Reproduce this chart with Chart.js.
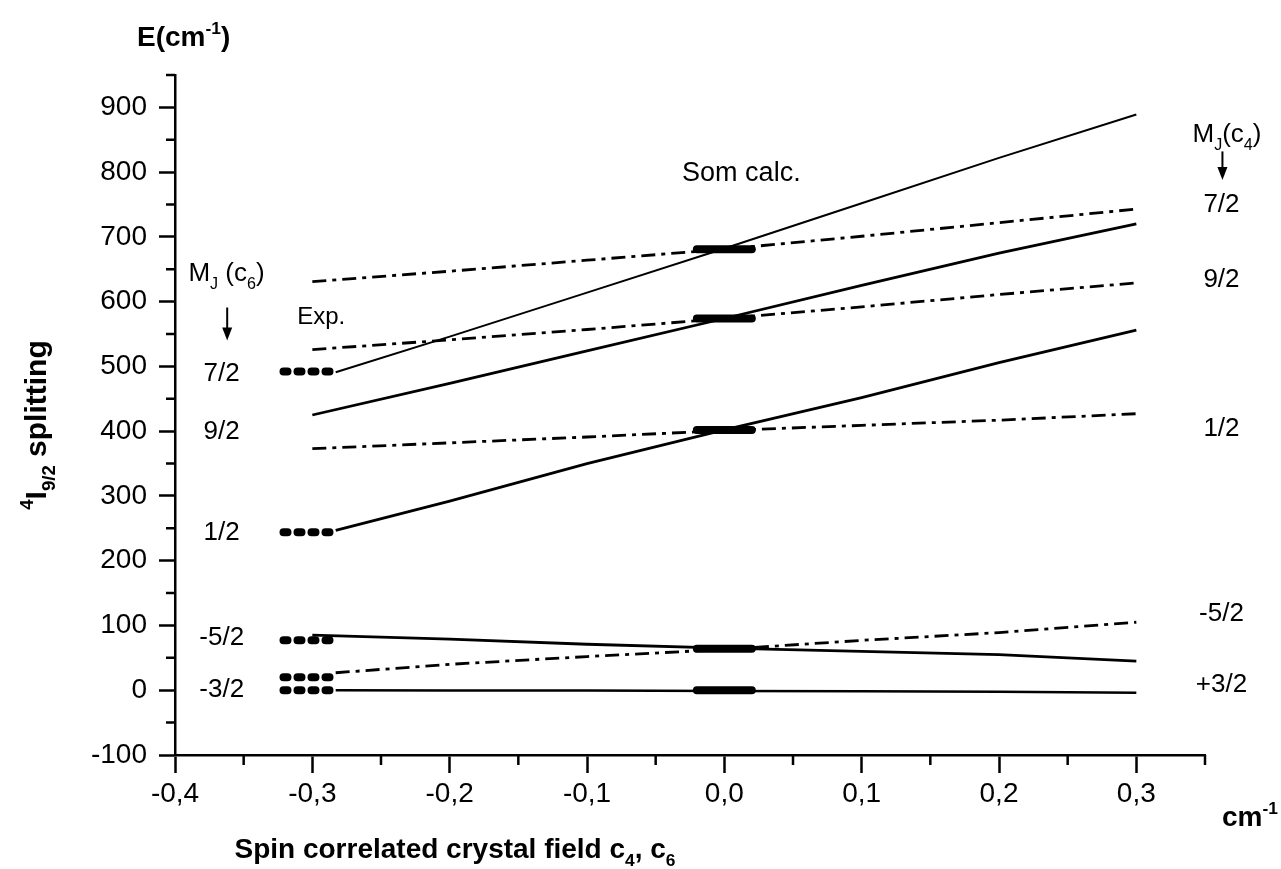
<!DOCTYPE html>
<html>
<head>
<meta charset="utf-8">
<title>4I9/2 splitting</title>
<script src="https://cdn.jsdelivr.net/npm/chart.js@4.4.1/dist/chart.umd.min.js"></script>
<style>
  html, body { margin: 0; padding: 0; background: #fff; }
  #wrap { width: 1281px; height: 869px; position: relative; }
</style>
</head>
<body>
<div id="wrap"><canvas id="levels"></canvas></div>
<script>
// field grids (cm-1)
const fieldGrid = [-0.3, -0.2, -0.1, 0, 0.1, 0.2, 0.3];
const fieldFromExp = [-0.283, -0.2, -0.1, 0, 0.1, 0.2, 0.3];

// solid curves, c6 varied (cm-1)
const c6Level72 = [491, 546, 614, 682, 752, 822, 889];   // on fieldFromExp
const c6Level92 = [425, 474, 524, 574, 625, 675, 720];   // on fieldGrid
const c6Level12 = [247, 292, 350, 402, 452, 506, 556];   // on fieldFromExp
const c6LevelM52 = [85, 79, 71, 65, 60, 55, 45];         // on fieldGrid
const c6LevelM32 = [0, -0.5, -0.5, -1, -1.5, -2.5, -4];  // on fieldFromExp

// dash-dot curves, c4 varied (cm-1)
const c4Level72 = [631, 647, 664, 681, 701, 722, 743];   // on fieldGrid
const c4Level92 = [526, 541, 557, 574, 592, 611, 629];   // on fieldGrid
const c4Level12 = [373, 382, 391, 401, 409, 417, 427];   // on fieldGrid
const c4LevelM52 = [27, 40, 52, 63, 77, 89, 105];        // on fieldFromExp

// experimental levels and Som calculation
const expField = [-0.321, -0.284];
const expLevels = [492, 244, 77, 20, 0];
const somField = [-0.02, 0.02];
const somLevels = [681, 574, 402, 64, 0];

// M_J labels
const leftTags = ["7/2", "9/2", "1/2", "-5/2", "-3/2"];
const leftTagLevels = [492, 402, 246, 84, 4];
const rightTags = ["7/2", "9/2", "1/2", "-5/2", "+3/2"];
const rightTagLevels = [753, 636, 407, 121, 11];

const xMajor = [-0.4, -0.3, -0.2, -0.1, 0, 0.1, 0.2, 0.3];
const xMinor = [-0.35, -0.25, -0.15, -0.05, 0.05, 0.15, 0.25, 0.35];
const yMajor = [-100, 0, 100, 200, 300, 400, 500, 600, 700, 800, 900];
const yMinor = [-50, 50, 150, 250, 350, 450, 550, 650, 750, 850, 950];

const FONT = '"Liberation Sans", Arial, Helvetica, sans-serif';
const dashDot = [14, 6, 4, 6];

function pts(xs, ys) {
  return xs.map((x, i) => ({ x: x, y: ys[i] }));
}

function curve(xs, ys, width, dash) {
  return {
    data: pts(xs, ys),
    borderColor: "#000",
    borderWidth: width,
    borderDash: dash || [],
    pointRadius: 0,
    tension: 0,
    fill: false,
  };
}

const datasets = [
  curve(fieldFromExp, c6Level72, 2),
  curve(fieldGrid, c6Level92, 2.8),
  curve(fieldFromExp, c6Level12, 2.8),
  curve(fieldGrid, c6LevelM52, 2.8),
  curve(fieldFromExp, c6LevelM32, 2.5),
  curve(fieldGrid, c4Level72, 2.8, dashDot),
  curve(fieldGrid, c4Level92, 2.8, dashDot),
  curve(fieldGrid, c4Level12, 2.8, dashDot),
  curve(fieldFromExp, c4LevelM52, 2.8, dashDot),
];

// Exp. dotted markers
expLevels.forEach((e) => {
  const d = curve(expField, [e, e], 8, [4, 10]);
  d.borderCapStyle = "round";
  datasets.push(d);
});
// Som calc. bars
somLevels.forEach((e) => {
  const d = curve(somField, [e, e], 8);
  d.borderCapStyle = "round";
  datasets.push(d);
});

// text with sub/superscripts, y is the baseline
function rich(ctx, parts, x, y, size, bold, align) {
  const f = (s) => (bold ? "bold " : "") + s + "px " + FONT;
  let w = 0;
  parts.forEach((p) => {
    ctx.font = f(p.s ? size * 0.62 : size);
    w += ctx.measureText(p.t).width;
  });
  let cx = align === "center" ? x - w / 2 : align === "right" ? x - w : x;
  ctx.textAlign = "left";
  ctx.textBaseline = "alphabetic";
  parts.forEach((p) => {
    const s = p.s ? size * 0.62 : size;
    ctx.font = f(s);
    const dy = p.s === "sub" ? size * 0.3 : p.s === "sup" ? -size * 0.42 : 0;
    ctx.fillText(p.t, cx, y + dy);
    cx += ctx.measureText(p.t).width;
  });
}

function arrow(ctx, x, y1, y2) {
  ctx.beginPath();
  ctx.moveTo(x, y1);
  ctx.lineTo(x, y2 - 10);
  ctx.lineWidth = 2;
  ctx.stroke();
  ctx.beginPath();
  ctx.moveTo(x - 5, y2 - 13);
  ctx.lineTo(x + 5, y2 - 13);
  ctx.lineTo(x, y2);
  ctx.closePath();
  ctx.fill();
}

const annotate = {
  id: "annotate",
  afterDraw(chart) {
    const ctx = chart.ctx;
    const xs = chart.scales.x;
    const ys = chart.scales.y;
    const area = chart.chartArea;
    ctx.save();
    ctx.fillStyle = "#000";
    ctx.strokeStyle = "#000";

    // minor ticks
    ctx.lineWidth = 2.5;
    ctx.beginPath();
    xMinor.forEach((v) => {
      const px = xs.getPixelForValue(v);
      ctx.moveTo(px, area.bottom);
      ctx.lineTo(px, area.bottom + 10);
    });
    yMinor.forEach((v) => {
      const py = ys.getPixelForValue(v);
      ctx.moveTo(area.left, py);
      ctx.lineTo(area.left - 9, py);
    });
    ctx.stroke();

    // axis titles
    rich(ctx, [{ t: "E(cm" }, { t: "-1", s: "sup" }, { t: ")" }], 137, 46, 28, true, "left");
    rich(ctx, [{ t: "Spin correlated crystal field c" }, { t: "4", s: "sub" }, { t: ", c" }, { t: "6", s: "sub" }],
      455, 858, 28, true, "center");
    rich(ctx, [{ t: "cm" }, { t: "-1", s: "sup" }], 1222, 826, 28, true, "left");
    ctx.save();
    ctx.translate(46, 425);
    ctx.rotate(-Math.PI / 2);
    rich(ctx, [{ t: "4", s: "sup" }, { t: "I" }, { t: "9/2", s: "sub" }, { t: " splitting" }], 0, 0, 30, true, "center");
    ctx.restore();

    // M_J labels
    const lx = xs.getPixelForValue(-0.366);
    const rx = xs.getPixelForValue(0.362);
    leftTags.forEach((t, i) => {
      rich(ctx, [{ t: t }], lx, ys.getPixelForValue(leftTagLevels[i]) + 9, 26, false, "center");
    });
    rightTags.forEach((t, i) => {
      rich(ctx, [{ t: t }], rx, ys.getPixelForValue(rightTagLevels[i]) + 9, 26, false, "center");
    });
    rich(ctx, [{ t: "M" }, { t: "J", s: "sub" }, { t: " (c" }, { t: "6", s: "sub" }, { t: ")" }],
      xs.getPixelForValue(-0.3625), ys.getPixelForValue(632), 26, false, "center");
    arrow(ctx, xs.getPixelForValue(-0.362), ys.getPixelForValue(591), ys.getPixelForValue(540));
    rich(ctx, [{ t: "M" }, { t: "J", s: "sub" }, { t: "(c" }, { t: "4", s: "sub" }, { t: ")" }],
      xs.getPixelForValue(0.366), ys.getPixelForValue(847), 26, false, "center");
    arrow(ctx, xs.getPixelForValue(0.3627), ys.getPixelForValue(832), ys.getPixelForValue(788));

    rich(ctx, [{ t: "Exp." }], xs.getPixelForValue(-0.2935), ys.getPixelForValue(566), 24, false, "center");
    rich(ctx, [{ t: "Som calc." }], xs.getPixelForValue(0.0124), ys.getPixelForValue(786), 27, false, "center");
    ctx.restore();
  },
};

new Chart(document.getElementById("levels"), {
  type: "line",
  data: { datasets: datasets },
  options: {
    responsive: true,
    maintainAspectRatio: false,
    devicePixelRatio: 1,
    animation: false,
    events: [],
    layout: { padding: { top: 75, right: 76, left: 0, bottom: 0 } },
    plugins: { legend: { display: false }, tooltip: { enabled: false } },
    scales: {
      x: {
        type: "linear",
        min: -0.4,
        max: 0.35,
        afterBuildTicks: (axis) => { axis.ticks = xMajor.map((v) => ({ value: v })); },
        afterFit: (axis) => { axis.height = 114; },
        ticks: {
          color: "#000",
          font: { family: FONT, size: 28 },
          padding: 4,
          maxRotation: 0,
          autoSkip: false,
          callback: (v) => (Math.round(v * 10) / 10).toFixed(1).replace(".", ","),
        },
        grid: { drawOnChartArea: false, tickLength: 18, tickWidth: 2.5, tickColor: "#000" },
        border: { display: true, color: "#000", width: 2.5 },
      },
      y: {
        type: "linear",
        min: -100,
        max: 950,
        afterBuildTicks: (axis) => { axis.ticks = yMajor.map((v) => ({ value: v })); },
        afterFit: (axis) => { axis.width = 175; },
        ticks: {
          color: "#000",
          font: { family: FONT, size: 28 },
          padding: 12,
          autoSkip: false,
        },
        grid: { drawOnChartArea: false, tickLength: 16, tickWidth: 2.5, tickColor: "#000" },
        border: { display: true, color: "#000", width: 2.5 },
      },
    },
  },
  plugins: [annotate],
});
</script>
</body>
</html>
